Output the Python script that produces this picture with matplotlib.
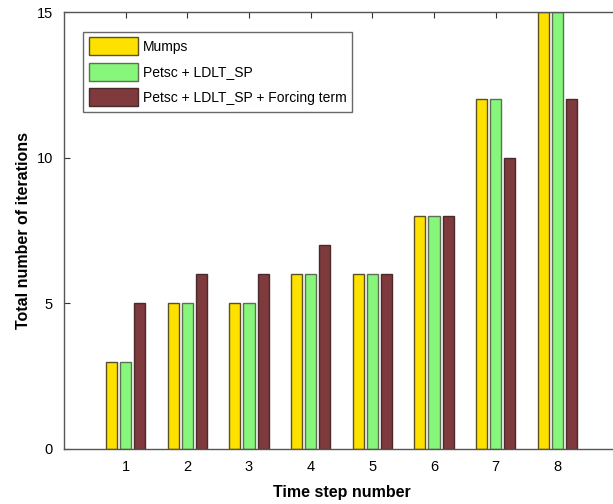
import matplotlib.pyplot as plt
import numpy as np

steps = [1, 2, 3, 4, 5, 6, 7, 8]
mumps = [3, 5, 5, 6, 6, 8, 12, 15]
petsc = [3, 5, 5, 6, 6, 8, 12, 15]
forcing = [5, 6, 6, 7, 6, 8, 10, 12]

labels = ["Mumps", "Petsc + LDLT_SP", "Petsc + LDLT_SP + Forcing term"]
colors = ["#FFE100", "#86F77A", "#7E3A3C"]
edges = ["#5a5020", "#5f6f55", "#4a2a2a"]

plt.rcParams["font.family"] = "Liberation Sans"

fig = plt.figure(figsize=(6.13, 5.04), dpi=100)
ax = fig.add_axes([64 / 613, 1 - 449 / 504, 555 / 613, 437 / 504])

x = np.array(steps, dtype=float)
w = 0.18
for off, vals, lab, c, ec in zip([-0.23, 0.0, 0.23], [mumps, petsc, forcing],
                                 labels, colors, edges):
    ax.bar(x + off, vals, width=w, color=c, edgecolor=ec, linewidth=1.0,
           label=lab)

ax.set_xlim(0, 9)
ax.set_ylim(0, 15)
ax.set_xticks(steps)
ax.set_yticks([0, 5, 10, 15])
ax.tick_params(direction="in", length=4, width=0.8, labelsize=10.5,
               colors="#333333", labelcolor="black", pad=8)
ax.tick_params(axis="x", length=0)
for s in ax.spines.values():
    s.set_color("#555555")
    s.set_linewidth(1.0)

top = ax.secondary_xaxis("top")
top.set_xticks(steps)
top.set_xticklabels([])
top.tick_params(direction="in", length=4, width=0.8, colors="#333333")
top.spines["top"].set_visible(False)

ax.set_xlabel("Time step number", fontsize=11.5, fontweight="bold",
              labelpad=8)
ax.set_ylabel("Total number of iterations", fontsize=11.5, fontweight="bold",
              labelpad=4)

leg = ax.legend(loc="upper left", bbox_to_anchor=(0.035, 0.955), fontsize=10,
                frameon=True, fancybox=False, handlelength=3.5,
                handleheight=1.6, handletextpad=0.4, labelspacing=0.55,
                borderpad=0.4, borderaxespad=0)
leg.get_frame().set_edgecolor("#444444")
leg.get_frame().set_linewidth(1.0)

fig.savefig("out.png", dpi=100)
